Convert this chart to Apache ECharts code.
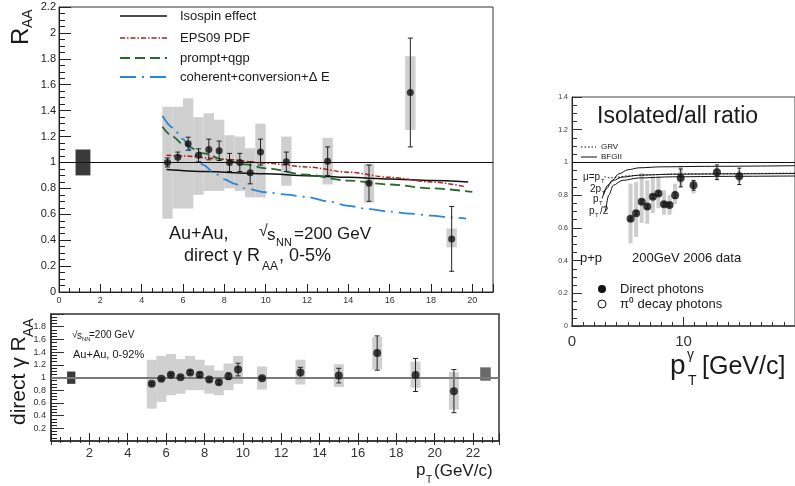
<!DOCTYPE html>
<html>
<head>
<meta charset="utf-8">
<script src="https://cdn.jsdelivr.net/npm/echarts@6/dist/echarts.min.js"></script>
<style>
html,body{margin:0;padding:0;background:#fff;}
#chart{width:795px;height:486px;}
</style>
</head>
<body>
<div id="chart"></div>
<script>
// ---- upper left: Au+Au 0-5% direct gamma R_AA ----
const auX     = [5.25, 5.75, 6.25, 6.75, 7.25, 7.75, 8.25, 8.75, 9.25, 9.75, 11, 13, 15, 17, 19];
const auY     = [1.0, 1.04, 1.145, 1.055, 1.10, 1.09, 1.0, 1.0, 0.92, 1.08, 1.005, 1.01, 0.84, 1.54, 0.41];
const auErr   = [0.035, 0.04, 0.05, 0.05, 0.08, 0.075, 0.07, 0.07, 0.085, 0.1, 0.075, 0.11, 0.14, 0.42, 0.25];
const auSysLo = [0.565, 0.645, 0.645, 0.75, 0.78, 0.78, 0.80, 0.78, 0.73, 0.73, 0.82, 0.83, 0.69, 1.25, 0.345];
const auSysHi = [1.43, 1.43, 1.495, 1.35, 1.38, 1.33, 1.21, 1.20, 1.11, 1.30, 1.20, 1.19, 0.99, 1.82, 0.49];
const auNorm  = [0.8, 1.52, 0.9, 1.1]; // x0, x1, y0, y1

const isoX = [5.2, 7, 10, 12, 14, 16, 18, 19.8];
const isoY = [0.945, 0.93, 0.912, 0.898, 0.885, 0.873, 0.861, 0.85];
const epsX = [5.2, 6, 8, 10, 12, 14, 16, 18, 19.6];
const epsY = [1.055, 1.05, 1.025, 0.995, 0.965, 0.925, 0.885, 0.85, 0.815];
const qgpX = [5.0, 5.5, 6, 7, 8, 9, 10, 12, 14, 16, 18, 20];
const qgpY = [1.275, 1.2, 1.14, 1.07, 1.02, 0.985, 0.955, 0.905, 0.86, 0.83, 0.80, 0.773];
const cohX = [5.0, 5.5, 6, 6.5, 7, 7.5, 8, 8.5, 9, 10, 11, 12, 13, 14, 15, 16, 17, 18, 19, 19.7];
const cohY = [1.36, 1.27, 1.18, 1.07, 0.98, 0.92, 0.87, 0.835, 0.80, 0.77, 0.752, 0.733, 0.70, 0.665, 0.64, 0.62, 0.605, 0.59, 0.575, 0.567];

// ---- lower left: Au+Au 0-92% ----
const mbX     = [5.25, 5.75, 6.25, 6.75, 7.25, 7.75, 8.25, 8.75, 9.25, 9.75, 11, 13, 15, 17, 19, 21];
const mbY     = [0.90, 0.98, 1.045, 1.005, 1.08, 1.045, 0.97, 0.925, 1.02, 1.125, 0.99, 1.08, 1.03, 1.385, 1.04, 0.785];
const mbErr   = [0.02, 0.02, 0.02, 0.02, 0.03, 0.03, 0.03, 0.03, 0.05, 0.1, 0.02, 0.08, 0.115, 0.27, 0.26, 0.34];
const mbSysLo = [0.51, 0.615, 0.72, 0.745, 0.80, 0.80, 0.745, 0.72, 0.80, 0.90, 0.81, 0.89, 0.85, 1.125, 0.84, 0.495];
const mbSysHi = [1.28, 1.34, 1.37, 1.29, 1.34, 1.28, 1.19, 1.11, 1.22, 1.34, 1.175, 1.28, 1.21, 1.64, 1.25, 1.085];
const mbNormL = [0.84, 1.27, 0.90, 1.094];
const mbNormR = [22.37, 22.92, 0.95, 1.16];

// ---- right: p+p isolated/all ratio ----
const ppX     = [5.25, 5.75, 6.25, 6.75, 7.25, 7.75, 8.25, 8.75, 9.25, 9.75, 10.9, 13, 15];
const ppY     = [0.655, 0.69, 0.76, 0.73, 0.79, 0.81, 0.745, 0.74, 0.80, 0.905, 0.86, 0.94, 0.915];
const ppErr   = [0.01, 0.01, 0.01, 0.01, 0.01, 0.01, 0.01, 0.01, 0.02, 0.055, 0.03, 0.045, 0.05];
const ppSysLo = [0.505, 0.545, 0.63, 0.625, 0.69, 0.72, 0.68, 0.68, 0.745, 0.85, 0.81, 0.89, 0.88];
const ppSysHi = [0.87, 0.88, 0.935, 0.89, 0.915, 0.915, 0.83, 0.80, 0.87, 0.98, 0.89, 0.97, 0.95];

const bfgAX = [2.7, 3.1, 3.6, 4.2, 5, 6, 8, 12, 20];
const bfgAY = [0.78, 0.84, 0.89, 0.93, 0.955, 0.967, 0.973, 0.976, 0.98];
const bfgBX = [2.8, 3.2, 3.7, 4.5, 6, 9, 14, 20];
const bfgBY = [0.80, 0.86, 0.89, 0.91, 0.922, 0.928, 0.93, 0.932];
const bfgCX = [3.0, 3.3, 3.7, 4.5, 6, 9, 14, 20];
const bfgCY = [0.70, 0.80, 0.86, 0.89, 0.905, 0.912, 0.915, 0.917];
const grvX  = [2.9, 3.5, 4, 5, 7, 10, 20];
const grvY  = [0.913, 0.905, 0.91, 0.918, 0.925, 0.93, 0.935];

const FONT = '"Liberation Sans", Arial, Helvetica, sans-serif';

function zip(xs, ys) { return xs.map((x, i) => [x, ys[i]]); }

function boxSeries(ai, xs, lo, hi, hw, color) {
  return {
    type: 'custom', xAxisIndex: ai[0], yAxisIndex: ai[1], z: 2, silent: true,
    data: xs.map((x, i) => [x, lo[i], hi[i]]),
    renderItem: function (params, api) {
      const a = api.coord([api.value(0) - hw, api.value(2)]);
      const b = api.coord([api.value(0) + hw, api.value(1)]);
      return { type: 'rect', shape: { x: a[0], y: a[1], width: b[0] - a[0], height: b[1] - a[1] }, style: { fill: color } };
    }
  };
}

function normBox(ai, box, color) {
  return {
    type: 'custom', xAxisIndex: ai[0], yAxisIndex: ai[1], z: 2, silent: true,
    data: [box],
    renderItem: function (params, api) {
      const a = api.coord([api.value(0), api.value(3)]);
      const b = api.coord([api.value(1), api.value(2)]);
      return { type: 'rect', shape: { x: a[0], y: a[1], width: b[0] - a[0], height: b[1] - a[1] }, style: { fill: color } };
    }
  };
}

function errSeries(ai, xs, ys, err, color, cap) {
  return {
    type: 'custom', xAxisIndex: ai[0], yAxisIndex: ai[1], z: 4, silent: true,
    data: xs.map((x, i) => [x, ys[i] - err[i], ys[i] + err[i]]),
    renderItem: function (params, api) {
      const a = api.coord([api.value(0), api.value(2)]);
      const b = api.coord([api.value(0), api.value(1)]);
      const st = { stroke: color, lineWidth: 1 };
      return { type: 'group', children: [
        { type: 'line', shape: { x1: a[0], y1: a[1], x2: b[0], y2: b[1] }, style: st },
        { type: 'line', shape: { x1: a[0] - cap, y1: a[1], x2: a[0] + cap, y2: a[1] }, style: st },
        { type: 'line', shape: { x1: b[0] - cap, y1: b[1], x2: b[0] + cap, y2: b[1] }, style: st }
      ] };
    }
  };
}

function curve(ai, xs, ys, color, width, dash) {
  return {
    type: 'line', xAxisIndex: ai[0], yAxisIndex: ai[1], z: 3, silent: true,
    data: zip(xs, ys), showSymbol: false, smooth: 0.3, smoothMonotone: 'x',
    lineStyle: { color: color, width: width, type: dash }
  };
}

function unity(ai, color, width) {
  return {
    type: 'line', xAxisIndex: ai[0], yAxisIndex: ai[1], z: 1, silent: true, data: [],
    markLine: { silent: true, symbol: 'none', label: { show: false }, animation: false,
      lineStyle: { color: color, width: width, type: 'solid' }, data: [{ yAxis: 1 }] }
  };
}

function points(ai, xs, ys, size) {
  return {
    type: 'scatter', xAxisIndex: ai[0], yAxisIndex: ai[1], z: 5, silent: true,
    data: zip(xs, ys), symbol: 'circle', symbolSize: size, itemStyle: { color: '#111' }
  };
}

function xAx(grid, min, max, interval, o) {
  return Object.assign({
    type: 'value', gridIndex: grid, min: min, max: max, interval: interval,
    axisLine: { onZero: false, lineStyle: { color: '#222', width: 1 } },
    axisTick: { inside: true, length: 8, lineStyle: { color: '#222' } },
    minorTick: { show: true, splitNumber: 4, length: 4, lineStyle: { color: '#222' } },
    splitLine: { show: false },
    axisLabel: { fontSize: 9, color: '#222', fontFamily: FONT, margin: 4 }
  }, o);
}

function yAx(grid, min, max, interval, o) {
  return Object.assign({
    type: 'value', gridIndex: grid, min: min, max: max, interval: interval,
    axisLine: { onZero: false, lineStyle: { color: '#222', width: 1 } },
    axisTick: { inside: true, length: 12, lineStyle: { color: '#222' } },
    minorTick: { show: true, splitNumber: 4, length: 6, lineStyle: { color: '#222' } },
    splitLine: { show: false },
    axisLabel: { fontSize: 11, color: '#222', fontFamily: FONT, margin: 3 }
  }, o);
}

function txt(x, y, s, size, extra) {
  return Object.assign({ type: 'text', x: x, y: y, silent: true,
    style: { text: s, fontSize: size, fontFamily: FONT, fill: '#1a1a1a', textAlign: 'left', textVerticalAlign: 'middle' } }, extra || {});
}

function legLine(x1, x2, y, color, width, dash) {
  return { type: 'line', silent: true, shape: { x1: x1, y1: y, x2: x2, y2: y },
    style: { stroke: color, lineWidth: width, lineDash: dash } };
}

const chart = echarts.init(document.getElementById('chart'));
chart.setOption({
  animation: false,
  backgroundColor: '#fff',
  grid: [
    { left: 59, top: 7, right: 302, bottom: 194, show: true, borderColor: '#333', borderWidth: 1 },
    { left: 51, top: 314, right: 296, bottom: 45, show: true, borderColor: '#333', borderWidth: 1.5 },
    { left: 572, top: 97, right: -31, bottom: 160, show: true, borderColor: '#444', borderWidth: 1 }
  ],
  xAxis: [
    xAx(0, 0, 21, 2, { axisLabel: { fontSize: 9, color: '#333', fontFamily: FONT, margin: 4, showMaxLabel: false } }),
    xAx(1, 0, 23.35, 2, { axisLine: { onZero: false, lineStyle: { color: '#333', width: 1.5 } },
      axisLabel: { fontSize: 13, color: '#333', fontFamily: FONT, margin: 6, showMinLabel: false, showMaxLabel: false } }),
    xAx(1, 0, 23.35, 2, { position: 'top', axisTick: { inside: true, length: 4, lineStyle: { color: '#333' } },
      minorTick: { show: true, splitNumber: 4, length: 2, lineStyle: { color: '#333' } },
      axisLine: { show: false }, axisLabel: { show: false } }),
    xAx(2, 0, 20, 10, { axisLine: { onZero: false, lineStyle: { color: '#555', width: 2 } },
      axisTick: { inside: true, length: 9, lineStyle: { color: '#333' } },
      minorTick: { show: true, splitNumber: 10, length: 4, lineStyle: { color: '#333' } },
      axisLabel: { fontSize: 15, color: '#333', fontFamily: FONT, margin: 8, showMaxLabel: false } })
  ],
  yAxis: [
    yAx(0, 0, 2.2, 0.2),
    yAx(1, 0, 2, 0.2, { axisLine: { onZero: false, lineStyle: { color: '#333', width: 1.5 } },
      axisTick: { inside: true, length: 13, lineStyle: { color: '#333' } },
      axisLabel: { fontSize: 9, color: '#333', fontFamily: FONT, margin: 5, showMinLabel: false, showMaxLabel: false } }),
    yAx(2, 0, 1.4, 0.2, { axisTick: { inside: true, length: 10, lineStyle: { color: '#333' } },
      minorTick: { show: true, splitNumber: 4, length: 5, lineStyle: { color: '#333' } },
      axisLabel: { fontSize: 7, color: '#333', fontFamily: FONT, margin: 4 } })
  ],
  series: [
    // upper left
    unity([0, 0], '#111', 1),
    boxSeries([0, 0], auX, auSysLo, auSysHi, 0.25, '#cfcfcf'),
    normBox([0, 0], auNorm, '#3a3a3a'),
    curve([0, 0], isoX, isoY, '#111', 1.5, 'solid'),
    curve([0, 0], epsX, epsY, '#b01e1e', 1.5, [5, 2, 1.5, 2]),
    curve([0, 0], qgpX, qgpY, '#276b2c', 1.8, [10, 5]),
    curve([0, 0], cohX, cohY, '#2a86d6', 1.8, [16, 6, 2, 6]),
    errSeries([0, 0], auX, auY, auErr, '#222', 2.5),
    points([0, 0], auX, auY, 7),
    // lower left
    unity([1, 1], '#7a7a7a', 2),
    boxSeries([1, 1], mbX, mbSysLo, mbSysHi, 0.26, '#d0d0d0'),
    normBox([1, 1], mbNormL, '#3a3a3a'),
    normBox([1, 1], mbNormR, '#6a6a6a'),
    errSeries([1, 1], mbX, mbY, mbErr, '#222', 2.5),
    points([1, 1], mbX, mbY, 8),
    // right
    unity([3, 2], '#111', 1),
    boxSeries([3, 2], ppX, ppSysLo, ppSysHi, 0.18, '#cdcdcd'),
    curve([3, 2], bfgAX, bfgAY, '#111', 1, 'solid'),
    curve([3, 2], bfgBX, bfgBY, '#111', 1, 'solid'),
    curve([3, 2], bfgCX, bfgCY, '#111', 1, 'solid'),
    curve([3, 2], grvX, grvY, '#111', 1, [1.5, 2]),
    errSeries([3, 2], ppX, ppY, ppErr, '#222', 2),
    points([3, 2], ppX, ppY, 8)
  ],
  graphic: [
    // upper left y title
    { type: 'group', x: 21, y: 45, rotation: Math.PI / 2, children: [
      txt(0, 0, 'R', 24), txt(17, 7, 'AA', 14) ] },
    // legend
    legLine(120, 167, 16, '#111', 1.5, null),
    legLine(120, 167, 38, '#b01e1e', 1.5, [5, 2, 1.5, 2]),
    legLine(120, 167, 58, '#276b2c', 1.8, [10, 5]),
    legLine(120, 167, 77, '#2a86d6', 1.8, [16, 6, 2, 6]),
    txt(180, 16, 'Isospin effect', 13),
    txt(180, 38, 'EPS09 PDF', 13),
    txt(180, 58, 'prompt+qgp', 13),
    txt(180, 77, 'coherent+conversion+\u0394 E', 13),
    txt(169, 234, 'Au+Au,', 18),
    txt(259, 232, '\u221A', 16),
    txt(267, 235, 's', 17),
    txt(276, 243, 'NN', 11),
    txt(294, 234, '=200 GeV', 17),
    txt(184, 256, 'direct \u03B3 R', 18),
    txt(262, 267, 'AA', 12),
    txt(279, 256, ', 0-5%', 18),
    // lower left
    { type: 'group', x: 19, y: 425, rotation: Math.PI / 2, children: [
      txt(0, 0, 'direct \u03B3 R', 21), txt(88, 10, 'AA', 14) ] },
    txt(72, 335, '\u221A', 10),
    txt(77, 336, 's', 10),
    txt(82, 339, 'NN', 6),
    txt(89, 335, '=200 GeV', 10),
    txt(73, 355, 'Au+Au, 0-92%', 11),
    txt(416, 470, 'p', 17),
    txt(426, 480, 'T', 10),
    txt(434, 471, '(GeV/c)', 17),
    // right
    txt(597, 117, 'Isolated/all ratio', 23),
    legLine(581, 596, 147, '#111', 1, [1.5, 2]),
    legLine(581, 597, 157, '#111', 1, null),
    txt(601, 147, 'GRV', 8),
    txt(601, 157, 'BFGII', 8),
    txt(583, 177, '\u03BC=p', 10), txt(601, 181, 'T', 6),
    txt(590, 189, '2p', 10), txt(602, 193, 'T', 6),
    txt(593, 199, 'p', 10), txt(599, 203, 'T', 6),
    txt(589, 211, 'p', 10), txt(595, 215, 'T', 6), txt(600, 211, '/2', 10),
    txt(580, 258, 'p+p', 13),
    txt(632, 258, '200GeV 2006 data', 13),
    { type: 'circle', silent: true, shape: { cx: 602, cy: 289, r: 4 }, style: { fill: '#111' } },
    { type: 'circle', silent: true, shape: { cx: 602, cy: 304, r: 4 }, style: { fill: '#fff', stroke: '#111', lineWidth: 1 } },
    txt(620, 289, 'Direct photons', 13),
    txt(620, 304, '\u03C0\u2070 decay photons', 13),
    txt(670, 366, 'p', 28),
    txt(687, 355, '\u03B3', 14),
    txt(688, 381, 'T', 14),
    txt(702, 367, '[GeV/c]', 25)
  ]
});
</script>
</body>
</html>
